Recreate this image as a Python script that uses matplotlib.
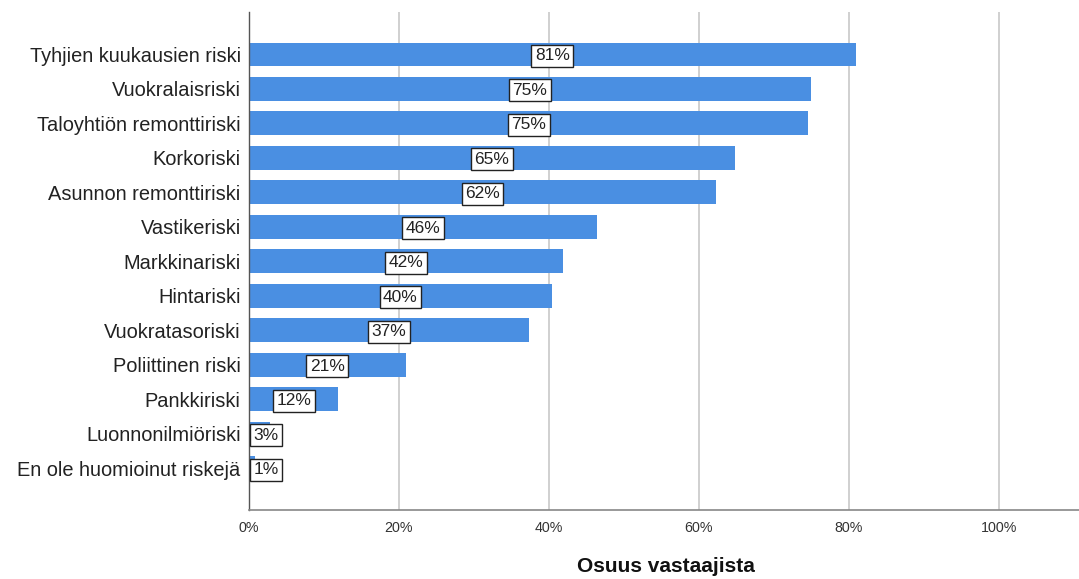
import matplotlib
matplotlib.use("Agg")
import matplotlib.pyplot as plt
from matplotlib.ticker import FuncFormatter

categories = [
    "Tyhjien kuukausien riski",
    "Vuokralaisriski",
    "Taloyhtiön remonttiriski",
    "Korkoriski",
    "Asunnon remonttiriski",
    "Vastikeriski",
    "Markkinariski",
    "Hintariski",
    "Vuokratasoriski",
    "Poliittinen riski",
    "Pankkiriski",
    "Luonnonilmiöriski",
    "En ole huomioinut riskejä",
]
values = [80.9, 74.9, 74.6, 64.8, 62.3, 46.4, 41.9, 40.4, 37.3, 20.9, 11.9, 2.8, 0.8]
labels = ["81%", "75%", "75%", "65%", "62%", "46%", "42%", "40%", "37%", "21%", "12%", "3%", "1%"]
xticks = [0, 20, 40, 60, 80, 100]

plt.rcParams["font.family"] = ["Liberation Sans", "DejaVu Sans"]

fig = plt.figure(figsize=(10.79, 5.79), dpi=100)
ax = fig.add_axes([249 / 1079, 1 - 510 / 579, (1079 - 249) / 1079, (510 - 12) / 579])

pos = list(range(len(categories)))
ax.barh(pos, values, height=0.69, color="#4a8fe2", zorder=2)

ax.set_xlim(0, 110.7)
ax.set_ylim(len(categories) - 1 + 1.21, -1.23)
ax.set_yticks(pos)
ax.set_yticklabels(categories, fontsize=14.4, color="#222222")
ax.set_xticks(xticks)
ax.xaxis.set_major_formatter(FuncFormatter(lambda v, p: f"{v:.0f}%"))
ax.tick_params(axis="x", labelsize=10.3, length=0, pad=8, colors="#333333")
ax.tick_params(axis="y", length=0, pad=6)
ax.grid(axis="x", color="#c8c8c8", linewidth=1.2, zorder=0)
ax.set_axisbelow(True)

for s in ("top", "right"):
    ax.spines[s].set_visible(False)
ax.spines["left"].set_color("#555555")
ax.spines["bottom"].set_color("#888888")
ax.spines["left"].set_linewidth(1.0)
ax.spines["bottom"].set_linewidth(1.2)

box = dict(boxstyle="square,pad=0.2", facecolor="white", edgecolor="#222222", linewidth=1.0)
for y, v, lab in zip(pos, values, labels):
    if v / 2 < 2.8:
        ax.annotate(lab, (0, y), xytext=(3.2, -1), textcoords="offset points",
                    ha="left", va="center", fontsize=12.5, color="#222222",
                    bbox=box, zorder=3)
    else:
        ax.annotate(lab, (v / 2, y), xytext=(0, -1), textcoords="offset points",
                    ha="center", va="center", fontsize=12.5,
                    color="#222222", bbox=box, zorder=3)

fig.text(666 / 1079, 1 - 567 / 579, "Osuus vastaajista", ha="center", va="center",
         fontsize=15, fontweight="bold", color="#111111")

fig.savefig("out.png", dpi=100, facecolor="white")
